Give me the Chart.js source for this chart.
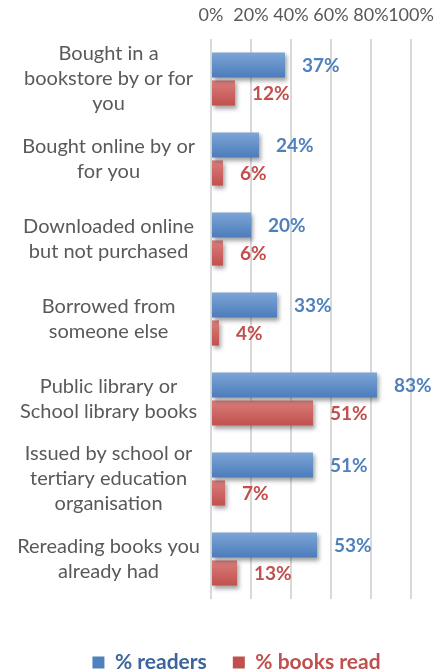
<!DOCTYPE html>
<html>
<head>
<meta charset="utf-8">
<script src="https://cdn.jsdelivr.net/npm/chart.js@4"></script>
<style>
  html, body { margin: 0; padding: 0; background: #fff; }
  #wrap { width: 440px; height: 672px; position: relative; }
</style>
</head>
<body>
<div id="wrap"><canvas id="chart"></canvas></div>
<script>
const categories = [
  ["Bought in a", "bookstore by or for", "you"],
  ["Bought online by or", "for you"],
  ["Downloaded online", "but not purchased"],
  ["Borrowed from", "someone else"],
  ["Public library or", "School library books"],
  ["Issued by school or", "tertiary education", "organisation"],
  ["Rereading books you", "already had"]
]
const readers = [37, 24, 20, 33, 83, 51, 53]
const booksRead = [12, 6, 6, 4, 51, 7, 13]
const seriesNames = ["% readers", "% books read"]
const tickValues = [0, 20, 40, 60, 80, 100]

const BLUE = '#4f81bd'
const RED = '#c0504d'

// vertical gradient per bar, like the Excel fill
function barFill(light, dark) {
  return (c) => {
    const chart = c.chart
    if (!chart.chartArea || !chart.scales.y || c.dataIndex === undefined) return dark
    const y = chart.scales.y.getPixelForValue(c.dataIndex)
    const top = c.datasetIndex === 0 ? y - 27 : y + 1
    const g = chart.ctx.createLinearGradient(0, top, 0, top + 26)
    g.addColorStop(0, light)
    g.addColorStop(1, dark)
    return g
  }
}

const shadowPlugin = {
  id: 'barShadow',
  afterLayout(chart) {
    // legend sits a bit right of centre in the original
    chart.legend.left += 31
    chart.legend.right += 31
  },
  beforeDatasetsDraw(chart) {
    const ctx = chart.ctx
    ctx.save()
    ctx.shadowColor = 'rgba(0,0,0,0.35)'
    ctx.shadowBlur = 4
    ctx.shadowOffsetX = 2
    ctx.shadowOffsetY = 3
  },
  afterDatasetsDraw(chart) {
    const ctx = chart.ctx
    ctx.restore()
    // value labels
    ctx.save()
    ctx.font = 'bold 19px Lato'
    ctx.textAlign = 'left'
    ctx.textBaseline = 'middle'
    chart.data.datasets.forEach((ds, di) => {
      const meta = chart.getDatasetMeta(di)
      ctx.fillStyle = ds.labelColor
      meta.data.forEach((bar, i) => {
        ctx.fillText(ds.data[i] + '%', bar.x + 17, bar.y + 1)
      })
    })
    ctx.restore()
  }
}

new Chart(document.getElementById('chart'), {
  type: 'bar',
  data: {
    labels: categories,
    datasets: [
      {
        label: seriesNames[0],
        data: readers,
        backgroundColor: barFill('#7ea6d8', '#4a7cba'),
        solidColor: BLUE,
        labelColor: BLUE,
        legendColor: '#3b659b',
        categoryPercentage: 0.7,
        barPercentage: 0.9
      },
      {
        label: seriesNames[1],
        data: booksRead,
        backgroundColor: barFill('#da7e7a', '#c0504d'),
        solidColor: RED,
        labelColor: RED,
        legendColor: RED,
        categoryPercentage: 0.7,
        barPercentage: 0.9
      }
    ]
  },
  options: {
    indexAxis: 'y',
    responsive: true,
    maintainAspectRatio: false,
    animation: false,
    layout: { padding: { top: 6, right: 29, left: 0, bottom: -11 } },
    scales: {
      x: {
        position: 'top',
        min: 0,
        max: 100,
        afterBuildTicks: (scale) => { scale.ticks = tickValues.map(v => ({ value: v })) },
        afterFit: (scale) => {
          scale.height = 33
          scale.paddingLeft = 0
          scale.paddingRight = 0
        },
        ticks: {
          autoSkip: false,
          maxRotation: 0,
          padding: 13,
          color: '#595959',
          font: { family: 'Lato', size: 18 },
          callback: (v) => v + '%'
        },
        grid: { color: '#d9d9d9', lineWidth: 2, drawTicks: false },
        border: { display: false }
      },
      y: {
        afterFit: (scale) => {
          scale.width = 211
          scale.paddingTop = 0
          scale.paddingBottom = 0
        },
        ticks: {
          autoSkip: false,
          crossAlign: 'center',
          padding: 11,
          color: '#595959',
          font: { family: 'Lato', size: 20, lineHeight: 1.25 }
        },
        grid: { display: false, drawTicks: false },
        border: { display: false }
      }
    },
    plugins: {
      tooltip: { enabled: false },
      legend: {
        position: 'bottom',
        title: { display: true, text: '', font: { size: 1, lineHeight: 1 }, padding: { top: 0, bottom: 26 } },
        labels: {
          boxWidth: 12,
          boxHeight: 12,
          padding: 26,
          font: { family: 'Lato', size: 21, weight: 'bold' },
          generateLabels: (chart) => chart.data.datasets.map((ds, i) => ({
            text: ds.label,
            fillStyle: ds.solidColor,
            strokeStyle: ds.solidColor,
            lineWidth: 0,
            fontColor: ds.legendColor,
            hidden: false,
            datasetIndex: i
          }))
        }
      }
    }
  },
  plugins: [shadowPlugin]
})
</script>
</body>
</html>
